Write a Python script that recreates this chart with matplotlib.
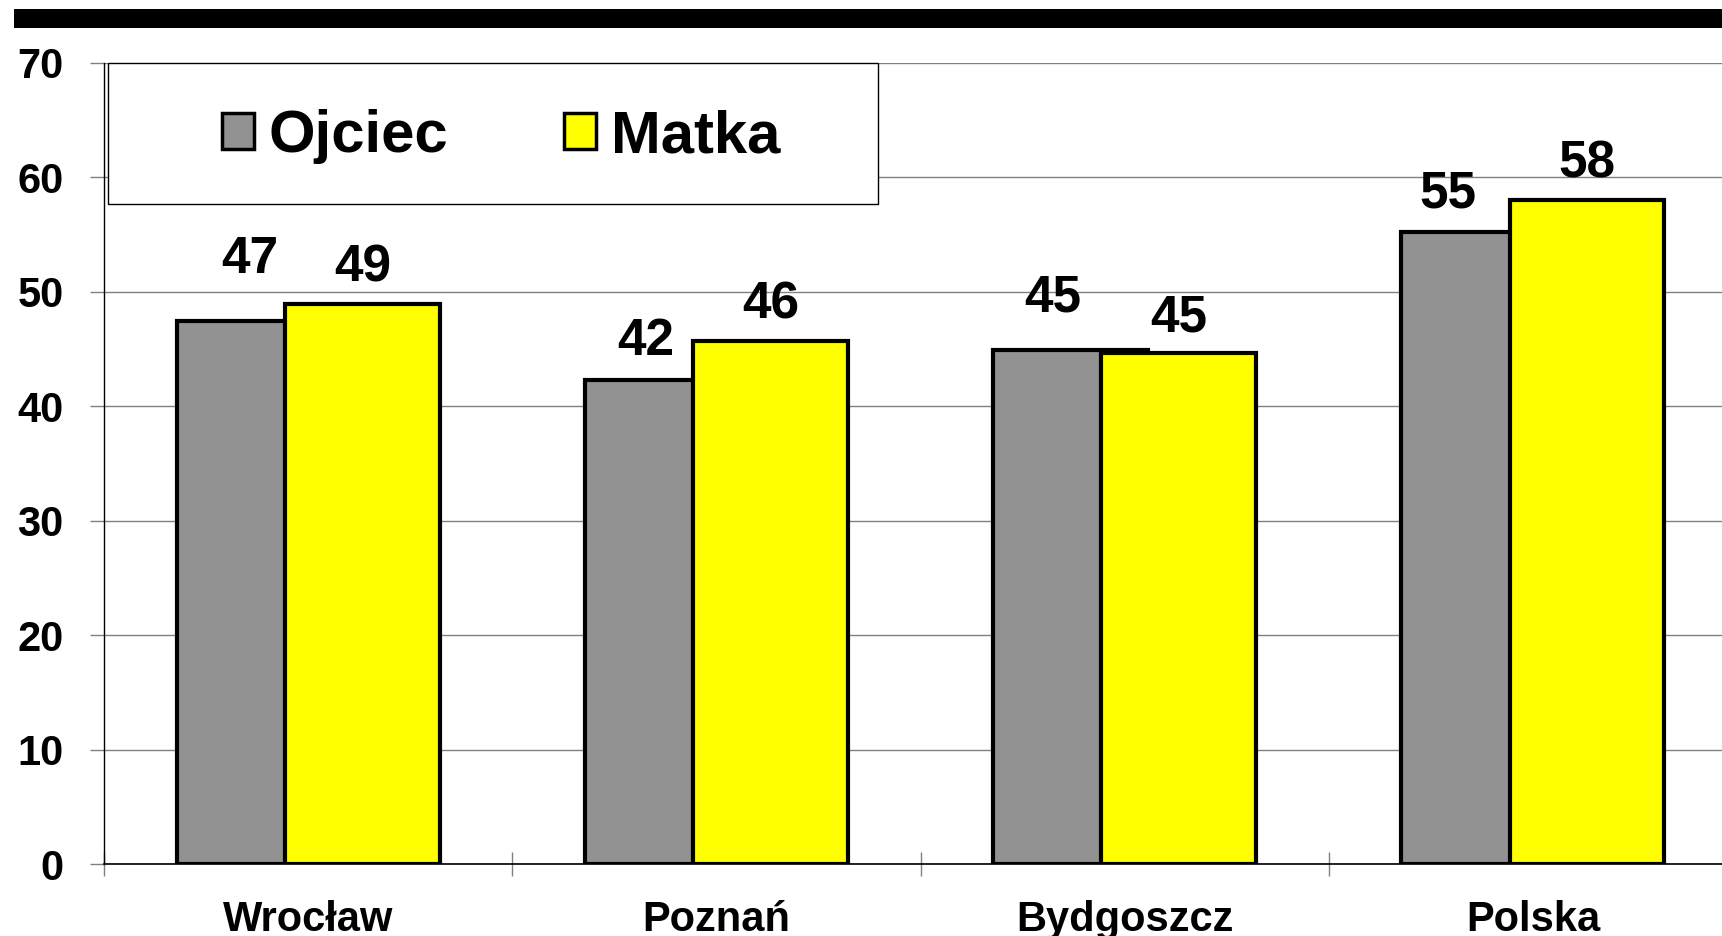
import numpy as np
import matplotlib.pyplot as plt
from matplotlib.patches import Rectangle, Patch

plt.rcParams['font.family'] = ['Liberation Sans', 'DejaVu Sans']
plt.rcParams['font.weight'] = 'bold'

cities = ["Wrocław", "Poznań", "Bydgoszcz", "Polska"]
ojciec = [47.4, 42.3, 44.9, 55.2]
matka = [48.9, 45.7, 44.6, 58.0]
yticks = [0, 10, 20, 30, 40, 50, 60, 70]

gray = "#929292"
yellow = "#ffff00"

fig = plt.figure(figsize=(17.22, 9.36), dpi=100)
ax = fig.add_axes([104/1722, 1-864/936, 1-104/1722, (864-62.6)/936])

# black stripe on top
fig.patches.append(Rectangle((14/1722, 1-28/936), 1, 19/936, transform=fig.transFigure,
                             facecolor="black", edgecolor="none"))

x = np.arange(len(cities))
w = 0.379
off = 0.35*w
b1 = ax.bar(x-off, ojciec, w, color=gray, edgecolor="black", linewidth=3, zorder=2)
b2 = ax.bar(x+off, matka, w, color=yellow, edgecolor="black", linewidth=3, zorder=3)

# labels (moved by hand in the original)
shift1 = [(-3, 35), (-12, 18), (-13, 28), (-22, 18)]
shift2 = [(0, 16), (0, 16), (0, 16), (0, 16)]
for i in range(len(cities)):
    ax.annotate("%.0f" % ojciec[i], (x[i]-off, ojciec[i]), xytext=shift1[i],
                textcoords="offset points", ha="center", va="baseline", fontsize=37, fontweight="bold")
    ax.annotate("%.0f" % matka[i], (x[i]+off, matka[i]), xytext=shift2[i],
                textcoords="offset points", ha="center", va="baseline", fontsize=37, fontweight="bold")

ax.set_ylim(0, 70)
ax.set_xlim(-0.5, 3.463)
ax.set_yticks(yticks)
ax.set_yticklabels([str(t) for t in yticks], fontsize=30, fontweight="bold")
ax.tick_params(axis="y", length=10, width=1, color="#808080", pad=19)
ax.yaxis.grid(True, color="#808080", linewidth=1)
ax.set_axisbelow(True)

ax.set_xticks(x)
ax.set_xticklabels(cities, fontsize=30, fontweight="bold")
ax.tick_params(axis="x", length=0, pad=26)
ax.set_xticks(np.arange(-0.5, 3.5, 1), minor=True)
ax.tick_params(axis="x", which="minor", direction="inout", length=17, width=1, color="#808080")

for s in ["top", "right"]:
    ax.spines[s].set_visible(False)
ax.spines["left"].set_linewidth(1)
ax.spines["bottom"].set_linewidth(1.2)

# legend box
ax.add_patch(Rectangle((0.0027, 0.8236), 0.4758, 0.1764, transform=ax.transAxes,
                       facecolor="white", edgecolor="black", linewidth=1, zorder=5, clip_on=False))
handles = [Patch(facecolor=gray, edgecolor="black", linewidth=2.5, label="Ojciec"),
           Patch(facecolor=yellow, edgecolor="black", linewidth=2.5, label="Matka")]
leg = ax.legend(handles=handles, loc="center", bbox_to_anchor=(0.2453, 0.9077), ncol=2,
                frameon=False, prop={"size": 43, "weight": "bold"},
                handlelength=0.54, handleheight=0.54, handletextpad=0.25, columnspacing=1.93)
leg.set_zorder(6)

fig.savefig("out.png", dpi=100)
